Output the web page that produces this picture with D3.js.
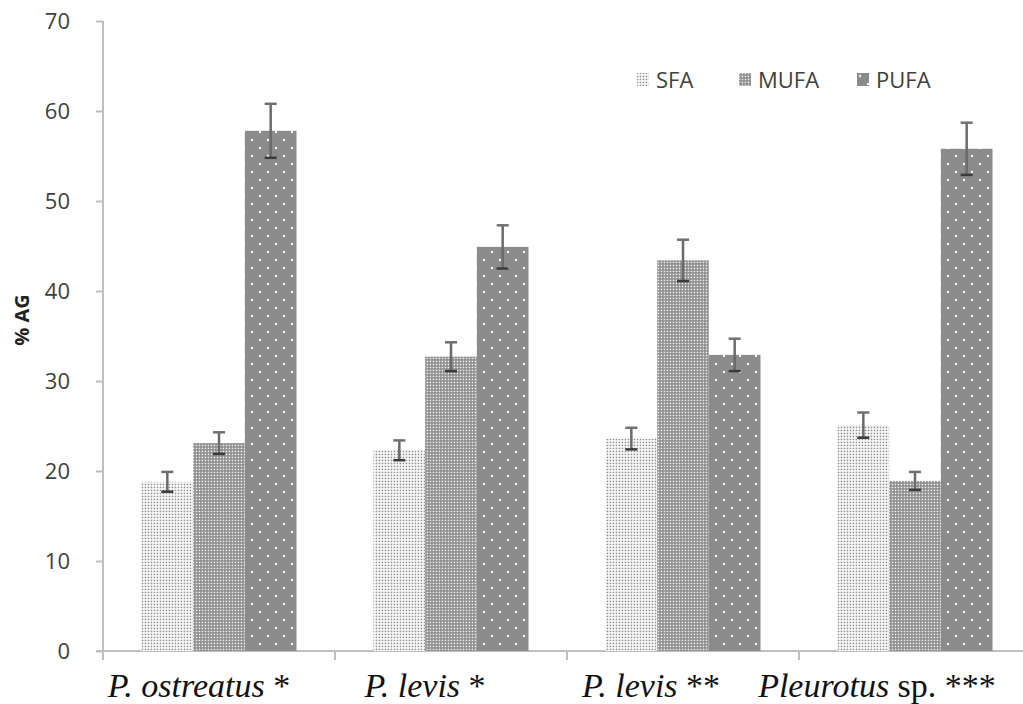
<!DOCTYPE html>
<html>
<head>
<meta charset="utf-8">
<script src="https://cdn.jsdelivr.net/npm/d3@7"></script>
<style>
  html, body { margin: 0; padding: 0; background: #fff; }
  svg { display: block; }
</style>
</head>
<body>
<svg id="chart" width="1023" height="704"></svg>
<script>
// ---- data ----
const categories = ["P. ostreatus *", "P. levis *", "P. levis **", "Pleurotus sp. ***"];
const seriesNames = ["SFA", "MUFA", "PUFA"];
const sfaValues  = [18.8, 22.3, 23.6, 25.1];
const mufaValues = [23.1, 32.7, 43.4, 18.9];
const pufaValues = [57.8, 44.9, 32.9, 55.8];
const sfaErr  = [1.1, 1.1, 1.2, 1.4];
const mufaErr = [1.2, 1.6, 2.3, 1.0];
const pufaErr = [3.0, 2.4, 1.8, 2.9];
const yTicks = [0, 10, 20, 30, 40, 50, 60, 70];
const yTitle = "% AG";

const seriesValues = [sfaValues, mufaValues, pufaValues];
const seriesErrors = [sfaErr, mufaErr, pufaErr];

const svg = d3.select("#chart");
const W = 1023, H = 704;
const mLeft = 103, mBottom = 651, mTop = 21;
const bandW = 232;

const x = d3.scaleBand().domain(categories).range([mLeft, mLeft + bandW * categories.length]).paddingInner(0).paddingOuter(0);
const xs = d3.scaleBand().domain(seriesNames).range([0, bandW]).paddingInner(0).paddingOuter(0.745);
const y = d3.scaleLinear().domain([0, 70]).range([mBottom, mTop]);
const labelX = d3.scalePoint().domain(categories).range([199, 877]);

// ---- patterns ----
const defs = svg.append("defs");
const pS = defs.append("pattern").attr("id", "pSFA").attr("patternUnits", "userSpaceOnUse").attr("width", 3).attr("height", 3);
pS.append("rect").attr("width", 3).attr("height", 3).attr("fill", "#fbfbfb");
pS.append("rect").attr("x", 0.7).attr("y", 0.7).attr("width", 1.5).attr("height", 1.5).attr("fill", "#8c8c8c");

const pM = defs.append("pattern").attr("id", "pMUFA").attr("patternUnits", "userSpaceOnUse").attr("width", 3).attr("height", 3);
pM.append("rect").attr("width", 3).attr("height", 3).attr("fill", "#8c8c8c");
pM.append("rect").attr("x", 0.7).attr("y", 0.7).attr("width", 1.5).attr("height", 1.5).attr("fill", "#f2f2f2");

const pP = defs.append("pattern").attr("id", "pPUFA").attr("patternUnits", "userSpaceOnUse").attr("width", 16).attr("height", 16);
pP.append("rect").attr("width", 16).attr("height", 16).attr("fill", "#8b8b8b");
pP.append("circle").attr("cx", 4).attr("cy", 4).attr("r", 1.2).attr("fill", "#f4f4f4");
pP.append("circle").attr("cx", 12).attr("cy", 12).attr("r", 1.2).attr("fill", "#f4f4f4");

const fills = { SFA: "url(#pSFA)", MUFA: "url(#pMUFA)", PUFA: "url(#pPUFA)" };

// ---- y axis ----
const yAxis = d3.axisLeft(y).tickValues(yTicks).tickSize(7).tickPadding(26);
const gy = svg.append("g").attr("transform", `translate(${mLeft},0)`).call(yAxis);
gy.select(".domain").attr("stroke", "#bfbfbf").attr("stroke-width", 2).attr("d", `M0,${mTop}V${mBottom}`);
gy.selectAll(".tick line").attr("stroke", "#bfbfbf").attr("stroke-width", 2);
gy.selectAll(".tick text").attr("font-family", "Open Sans, sans-serif").attr("font-size", 22).attr("fill", "#404040");

// ---- x axis ----
const gx = svg.append("g").attr("transform", `translate(0,${mBottom})`);
gx.append("line").attr("x1", mLeft - 7).attr("x2", W).attr("y1", 0).attr("y2", 0).attr("stroke", "#bfbfbf").attr("stroke-width", 2);
const tickPos = categories.map(c => x(c)).concat([x(categories[categories.length - 1]) + bandW]);
gx.selectAll("line.t").data(tickPos.filter(p => p <= W)).join("line").attr("class", "t")
  .attr("x1", d => d).attr("x2", d => d).attr("y1", 0).attr("y2", 9).attr("stroke", "#bfbfbf").attr("stroke-width", 2);

// ---- bars ----
const flat = [];
categories.forEach((c, i) => seriesNames.forEach((s, j) => flat.push({ c, s, v: seriesValues[j][i], e: seriesErrors[j][i] })));

svg.append("g").selectAll("rect").data(flat).join("rect")
  .attr("x", d => x(d.c) + xs(d.s))
  .attr("y", d => y(d.v))
  .attr("width", xs.bandwidth())
  .attr("height", d => y(0) - y(d.v))
  .attr("fill", d => fills[d.s]);

// ---- error bars ----
const eg = svg.append("g");
flat.forEach(d => {
  const cx = x(d.c) + xs(d.s) + xs.bandwidth() / 2;
  eg.append("line").attr("x1", cx).attr("x2", cx).attr("y1", y(d.v + d.e)).attr("y2", y(d.v - d.e))
    .attr("stroke", "#6a6a6a").attr("stroke-width", 2.5);
  eg.append("line").attr("x1", cx - 6).attr("x2", cx + 6).attr("y1", y(d.v + d.e)).attr("y2", y(d.v + d.e))
    .attr("stroke", "#707070").attr("stroke-width", 2.5);
  eg.append("line").attr("x1", cx - 6).attr("x2", cx + 6).attr("y1", y(d.v - d.e)).attr("y2", y(d.v - d.e))
    .attr("stroke", "#3a3a3a").attr("stroke-width", 2.5);
});

// ---- y title ----
svg.append("text").attr("transform", `translate(29,320) rotate(-90)`).attr("text-anchor", "middle")
  .attr("font-family", "Open Sans, sans-serif").attr("font-weight", "bold").attr("font-size", 20).attr("fill", "#222")
  .text(yTitle);

// ---- x labels ----
const xl = svg.append("g").attr("font-family", "Liberation Serif, Times New Roman, serif").attr("font-size", 34).attr("fill", "#111");
categories.forEach(c => {
  const t = xl.append("text").attr("x", labelX(c)).attr("y", 697).attr("text-anchor", "middle");
  if (c.startsWith("Pleurotus")) {
    t.append("tspan").attr("font-style", "italic").text("Pleurotus");
    t.append("tspan").text(c.slice("Pleurotus".length));
  } else {
    const star = c.indexOf("*");
    t.append("tspan").attr("font-style", "italic").text(c.slice(0, star));
    t.append("tspan").text(c.slice(star));
  }
});

// ---- legend ----
const legendX = [637, 739, 857];
const lg = svg.append("g");
seriesNames.forEach((s, i) => {
  lg.append("rect").attr("x", legendX[i]).attr("y", 73).attr("width", 12).attr("height", 13).attr("fill", fills[s]);
  lg.append("text").attr("x", legendX[i] + 19).attr("y", 88).attr("font-family", "Open Sans, sans-serif")
    .attr("font-size", 22).attr("fill", "#404040").text(s);
});
</script>
</body>
</html>
